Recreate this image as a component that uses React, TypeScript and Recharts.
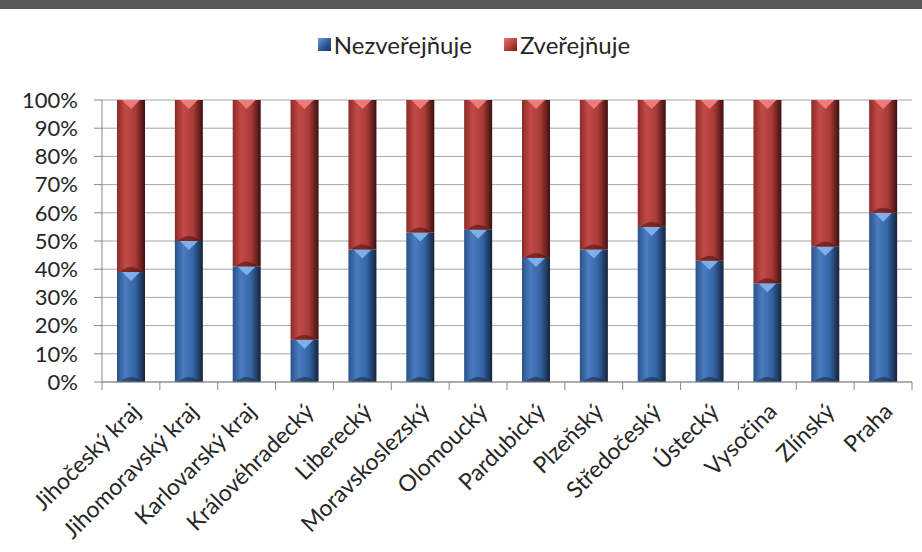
import React from "react";
import {
  BarChart,
  Bar,
  XAxis,
  YAxis,
  CartesianGrid,
  Legend,
} from "recharts";

const regions = [
  "Jihočeský kraj",
  "Jihomoravský kraj",
  "Karlovarský kraj",
  "Královéhradecký",
  "Liberecký",
  "Moravskoslezský",
  "Olomoucký",
  "Pardubický",
  "Plzeňský",
  "Středočeský",
  "Ústecký",
  "Vysočina",
  "Zlínský",
  "Praha",
];
const nezverejnuje = [39, 50, 41, 15, 47, 53, 54, 44, 47, 55, 43, 35, 48, 60];
const zverejnuje = [61, 50, 59, 85, 53, 47, 46, 56, 53, 45, 57, 65, 52, 40];
const percentTicks = [0, 10, 20, 30, 40, 50, 60, 70, 80, 90, 100];

const data = regions.map((name, i) => ({
  name,
  nezverejnuje: nezverejnuje[i],
  zverejnuje: zverejnuje[i],
}));

const FONT = "Lato, 'Open Sans', sans-serif";
const W = 922;
const H = 552;
const MARGIN = { top: 70, right: 10, bottom: 5, left: 0 };
const Y_AXIS_W = 102;
// half a category band, used to put the x tick marks between the bars
const HALF_BAND = (W - Y_AXIS_W - MARGIN.right) / regions.length / 2;

// cylinder-ish bar with a light chevron at the top and a dark rim at the bottom
const cylinder = (cap: string, rim: string, grad: string) => (props: any) => {
  const { x, y, width, height } = props;
  if (!height || height <= 0) return null;
  const cx = x + width / 2;
  return (
    <g>
      <rect x={x} y={y} width={width} height={height} fill={`url(#${grad})`} />
      <path
        d={`M${x + 3},${y + height} Q${cx},${y + height - 10} ${x + width - 3},${y + height} Z`}
        fill={rim}
        opacity={0.55}
      />
      <path
        d={`M${x + 5},${y} L${x + width - 5},${y} L${cx},${y + 9} Z`}
        fill={cap}
        opacity={0.9}
      />
    </g>
  );
};

const BlueBar = cylinder("#86b6f0", "#16263d", "gBlue");
const RedBar = cylinder("#f2837c", "#4a1110", "gRed");

const RegionTick = (props: any) => {
  const { x, y, payload, index } = props;
  const tx = x + 11;
  const ty = y + 31;
  return (
    <g>
      <line x1={x - HALF_BAND} y1={y} x2={x - HALF_BAND} y2={y + 8} stroke="#868686" />
      {index === regions.length - 1 && (
        <line x1={x + HALF_BAND} y1={y} x2={x + HALF_BAND} y2={y + 8} stroke="#868686" />
      )}
      <text
        x={tx}
        y={ty}
        textAnchor="end"
        transform={`rotate(-45 ${tx} ${ty})`}
        fontSize={23}
        fontFamily={FONT}
        fill="#262626"
      >
        {payload.value}
      </text>
    </g>
  );
};

const swatch = (bg: string) => (
  <span
    style={{ width: 13, height: 13, marginRight: 3, background: bg, display: "inline-block" }}
  />
);

const LegendBox = () => (
  <div
    style={{
      height: 30,
      display: "flex",
      justifyContent: "center",
      alignItems: "center",
      fontFamily: FONT,
      fontSize: 24,
      color: "#262626",
      gap: 32,
      paddingLeft: 26,
    }}
  >
    <span style={{ display: "flex", alignItems: "center" }}>
      {swatch("linear-gradient(135deg,#6c9be0,#2b5591 60%,#1a3358)")}
      Nezveřejňuje
    </span>
    <span style={{ display: "flex", alignItems: "center" }}>
      {swatch("linear-gradient(135deg,#e57470,#b23a37 60%,#6b1a18)")}
      Zveřejňuje
    </span>
  </div>
);

export default function App() {
  return (
    <div
      style={{
        position: "absolute",
        left: 0,
        top: 0,
        width: W,
        height: H,
        background: "#fff",
        overflow: "hidden",
      }}
    >
      <svg width={0} height={0} style={{ position: "absolute" }}>
        <defs>
          <linearGradient id="gBlue" x1="0" y1="0" x2="1" y2="0">
            <stop offset="0" stopColor="#2a5288" />
            <stop offset="0.3" stopColor="#4a7cc0" />
            <stop offset="0.65" stopColor="#3565a6" />
            <stop offset="1" stopColor="#14243c" />
          </linearGradient>
          <linearGradient id="gRed" x1="0" y1="0" x2="1" y2="0">
            <stop offset="0" stopColor="#8c2b29" />
            <stop offset="0.3" stopColor="#c24a46" />
            <stop offset="0.65" stopColor="#ab3c39" />
            <stop offset="1" stopColor="#3e100f" />
          </linearGradient>
        </defs>
      </svg>
      <BarChart width={W} height={H} data={data} barSize={28} margin={MARGIN}>
        <CartesianGrid vertical={false} stroke="#a6a6a6" />
        <Legend
          verticalAlign="top"
          content={LegendBox}
          wrapperStyle={{ top: 29, left: 0, width: W }}
        />
        <XAxis
          dataKey="name"
          interval={0}
          height={165}
          stroke="#868686"
          tickLine={false}
          tickSize={0}
          tickMargin={0}
          tick={RegionTick}
        />
        <YAxis
          width={Y_AXIS_W}
          domain={[0, 100]}
          ticks={percentTicks}
          interval={0}
          tickFormatter={(v: number) => `${v}%`}
          tickSize={8}
          tickMargin={16}
          stroke="#868686"
          tick={{ fill: "#262626", fontSize: 22, fontFamily: FONT }}
        />
        <Bar
          dataKey="nezverejnuje"
          name="Nezveřejňuje"
          stackId="a"
          shape={BlueBar}
          isAnimationActive={false}
        />
        <Bar
          dataKey="zverejnuje"
          name="Zveřejňuje"
          stackId="a"
          shape={RedBar}
          isAnimationActive={false}
        />
      </BarChart>
      <div
        style={{
          position: "absolute",
          left: 0,
          top: 0,
          width: W,
          height: 9,
          background: "#58585a",
        }}
      />
    </div>
  );
}
